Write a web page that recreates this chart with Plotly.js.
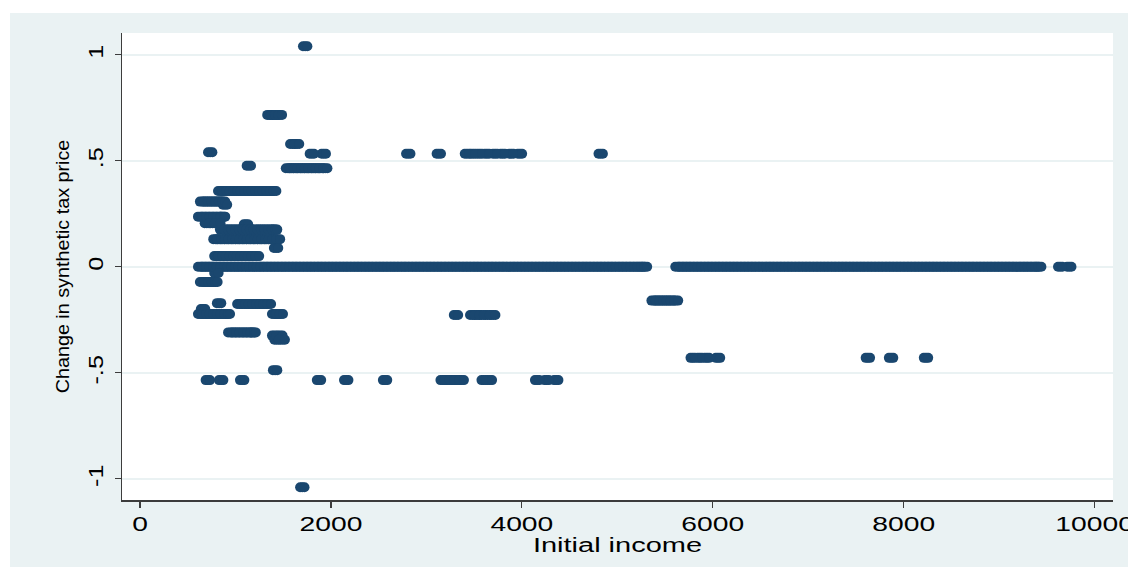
<!DOCTYPE html>
<html>
<head>
<meta charset="utf-8">
<script src="https://cdn.plot.ly/plotly-3.0.1.min.js"></script>
<style>
  html, body { margin: 0; padding: 0; background: #ffffff; }
  #chart { position: absolute; left: 10px; top: 13px; width: 1118px; height: 554px; }
</style>
</head>
<body>
<div id="chart"></div>
<script>
// Change in synthetic tax price (one value per group) and the initial incomes observed at it
const priceLevels = [
  1.04, 0.716, 0.579, 0.54, 0.533, 0.476, 0.464, 0.357, 0.307, 0.292, 0.236, 0.205, 0.2,
  0.175, 0.13, 0.088, 0.05, 0, -0.03, -0.072, -0.16, -0.172, -0.176, -0.2, -0.223, -0.228,
  -0.31, -0.325, -0.345, -0.43, -0.488, -0.535, -1.04
];

const incP104 = [1730];
const incP0716 = [1355, 1390, 1425, 1465];
const incP0579 = [1595, 1645];
const incP054 = [735];
const incP0533 = [1800, 1925, 2810, 3130, 3425, 3490, 3560, 3635, 3720, 3800, 3890, 3980, 4826];
const incP0476 = [1140];
const incP0464 = [1550, 1588, 1626, 1665, 1703, 1741, 1780, 1818, 1856, 1895, 1940];
const incP0357 = [840, 878, 916, 955, 993, 1031, 1070, 1108, 1146, 1185, 1223, 1261, 1300, 1338, 1376, 1405];
const incP0307 = [650, 688, 726, 765, 803, 840, 870];
const incP0292 = [890];
const incP0236 = [630, 668, 706, 745, 783, 821, 860, 870];
const incP0205 = [700, 760, 820];
const incP020 = [1110];
const incP0175 = [860, 898, 936, 975, 1013, 1051, 1090, 1128, 1166, 1205, 1243, 1281, 1320, 1358, 1396, 1415];
const incP013 = [790, 828, 866, 905, 943, 981, 1020, 1058, 1096, 1135, 1173, 1211, 1250, 1288, 1326, 1365, 1403, 1445];
const incP0088 = [1425];
const incP005 = [800, 838, 876, 915, 953, 991, 1030, 1068, 1106, 1145, 1183, 1225];
const incZero = [
  630, 668, 705, 744, 781, 820, 858, 895, 934, 972, 1010, 1047, 1086, 1124, 1161, 1200,
  1238, 1275, 1314, 1352, 1390, 1427, 1466, 1504, 1541, 1580, 1618, 1655, 1694, 1732,
  1770, 1807, 1846, 1884, 1921, 1960, 1998, 2035, 2074, 2112, 2150, 2187, 2226, 2264,
  2301, 2340, 2378, 2415, 2454, 2492, 2530, 2567, 2606, 2644, 2681, 2720, 2758, 2795,
  2834, 2872, 2910, 2947, 2986, 3024, 3061, 3100, 3138, 3175, 3214, 3252, 3290, 3327,
  3366, 3404, 3441, 3480, 3518, 3555, 3594, 3632, 3670, 3707, 3746, 3784, 3821, 3860,
  3898, 3935, 3974, 4012, 4050, 4087, 4126, 4164, 4201, 4240, 4278, 4315, 4354, 4392,
  4430, 4467, 4506, 4544, 4581, 4620, 4658, 4695, 4734, 4772, 4810, 4847, 4886, 4924,
  4961, 5000, 5038, 5075, 5114, 5152, 5190, 5227, 5260, 5290,
  5630, 5668, 5706, 5743, 5781, 5820, 5857, 5895, 5934, 5971, 6010, 6047, 6085, 6124,
  6161, 6200, 6237, 6275, 6314, 6351, 6390, 6427, 6465, 6504, 6541, 6580, 6617, 6655,
  6694, 6731, 6770, 6807, 6845, 6884, 6921, 6960, 6997, 7035, 7074, 7111, 7150, 7187,
  7225, 7264, 7301, 7340, 7377, 7415, 7454, 7491, 7530, 7567, 7605, 7644, 7681, 7720,
  7757, 7795, 7834, 7871, 7910, 7947, 7985, 8024, 8061, 8100, 8137, 8175, 8214, 8251,
  8290, 8327, 8365, 8404, 8441, 8480, 8517, 8555, 8594, 8631, 8670, 8707, 8745, 8784,
  8821, 8860, 8897, 8935, 8974, 9011, 9050, 9087, 9125, 9164, 9201, 9240, 9277, 9315,
  9354, 9391, 9420, 9640, 9735
];
const incM003 = [800];
const incM0072 = [650, 690, 728, 765, 790];
const incM016 = [5380, 5418, 5456, 5495, 5533, 5571, 5615];
const incM0172 = [828];
const incM0176 = [1040, 1078, 1116, 1155, 1193, 1231, 1270, 1308, 1350];
const incM020 = [660];
const incM0223 = [630, 668, 706, 745, 783, 821, 860, 898, 920, 1405, 1440, 1475];
const incM0228 = [3310, 3480, 3530, 3580, 3640, 3700];
const incM031 = [945, 983, 1021, 1060, 1098, 1136, 1175, 1190];
const incM0325 = [1405, 1470];
const incM0345 = [1430, 1495];
const incM043 = [5790, 5865, 5940, 6055, 7625, 7868, 8234];
const incM0488 = [1415];
const incM0535 = [710, 850, 1070, 1875, 2160, 2567, 3170, 3220, 3270, 3320, 3370, 3600, 3665, 4160, 4260, 4360];
const incM104 = [1700];

const incomeGroups = [
  incP104, incP0716, incP0579, incP054, incP0533, incP0476, incP0464, incP0357, incP0307,
  incP0292, incP0236, incP0205, incP020, incP0175, incP013, incP0088, incP005, incZero,
  incM003, incM0072, incM016, incM0172, incM0176, incM020, incM0223, incM0228, incM031,
  incM0325, incM0345, incM043, incM0488, incM0535, incM104
];

const xTicks = [0, 2000, 4000, 6000, 8000, 10000];
const yTicks = [-1, -0.5, 0, 0.5, 1];
const yTickText = ['-1', '-.5', '0', '.5', '1'];

// flatten the groups into one (income, change) point list
const income = [];
const priceChange = [];
incomeGroups.forEach((g, i) => g.forEach(v => { income.push(v); priceChange.push(priceLevels[i]); }));

const navy = '#1a476f';
const bg = '#eaf2f3';
const axisCol = '#3c3c3c';
const font = 'Liberation Sans, Arial, sans-serif';

const xRange = [-189, 10193];
// about 2.2 px of data along x, used to draw each marker as a wide oval
const nudge = 23;

function dots(xa) {
  return {
    type: 'scatter', mode: 'markers', x: income, y: priceChange,
    xaxis: xa, yaxis: 'y',
    marker: { color: navy, size: 10, line: { width: 0 } },
    hoverinfo: 'skip', showlegend: false
  };
}

const hiddenX = (shift) => ({
  overlaying: 'x', range: [xRange[0] + shift, xRange[1] + shift],
  visible: false, showgrid: false, zeroline: false, fixedrange: true
});

const layout = {
  width: 1118, height: 554,
  paper_bgcolor: bg, plot_bgcolor: '#ffffff',
  margin: { l: 112, r: 15, t: 20, b: 67 },
  showlegend: false,
  font: { family: font, color: '#000000' },
  xaxis: {
    range: xRange, tickvals: xTicks, ticktext: xTicks.map(String),
    ticks: 'outside', ticklen: 6, tickwidth: 1.2, tickcolor: axisCol,
    showline: true, linecolor: axisCol, linewidth: 1.5,
    showgrid: false, zeroline: false,
    tickfont: { size: 19.5, family: font, color: '#000' },
    title: { text: 'Initial income', font: { size: 20, family: font, color: '#000' }, standoff: 4 }
  },
  xaxis2: hiddenX(nudge),
  xaxis3: hiddenX(-nudge),
  yaxis: {
    range: [-1.1005, 1.1023], tickvals: yTicks, ticktext: yTickText, tickangle: -90,
    ticks: 'outside', ticklen: 6, tickwidth: 1.2, tickcolor: axisCol, ticklabelstandoff: 4,
    showline: true, linecolor: axisCol, linewidth: 1.5,
    showgrid: true, gridcolor: bg, gridwidth: 2, zeroline: false,
    tickfont: { size: 19.5, family: font, color: '#000' },
    title: { text: 'Change in synthetic tax price', font: { size: 19, family: font, color: '#000' }, standoff: 10 }
  }
};

const gd = document.getElementById('chart');
Plotly.newPlot(gd, [dots('x'), dots('x2'), dots('x3')], layout, { displayModeBar: false, staticPlot: true })
  .then(() => {
    // widen the label glyphs along their baseline, as in Stata's wide rendering
    const widen = (sel, k) => gd.querySelectorAll(sel).forEach(t => {
      const w = t.getComputedTextLength();
      t.setAttribute('textLength', (w * k).toFixed(1));
      t.setAttribute('lengthAdjust', 'spacingAndGlyphs');
    });
    widen('.xtick text', 1.45);
    widen('.g-xtitle text', 1.45);
    widen('.ytick text', 1.3);
    widen('.g-ytitle text', 1.04);
  });
</script>
</body>
</html>
